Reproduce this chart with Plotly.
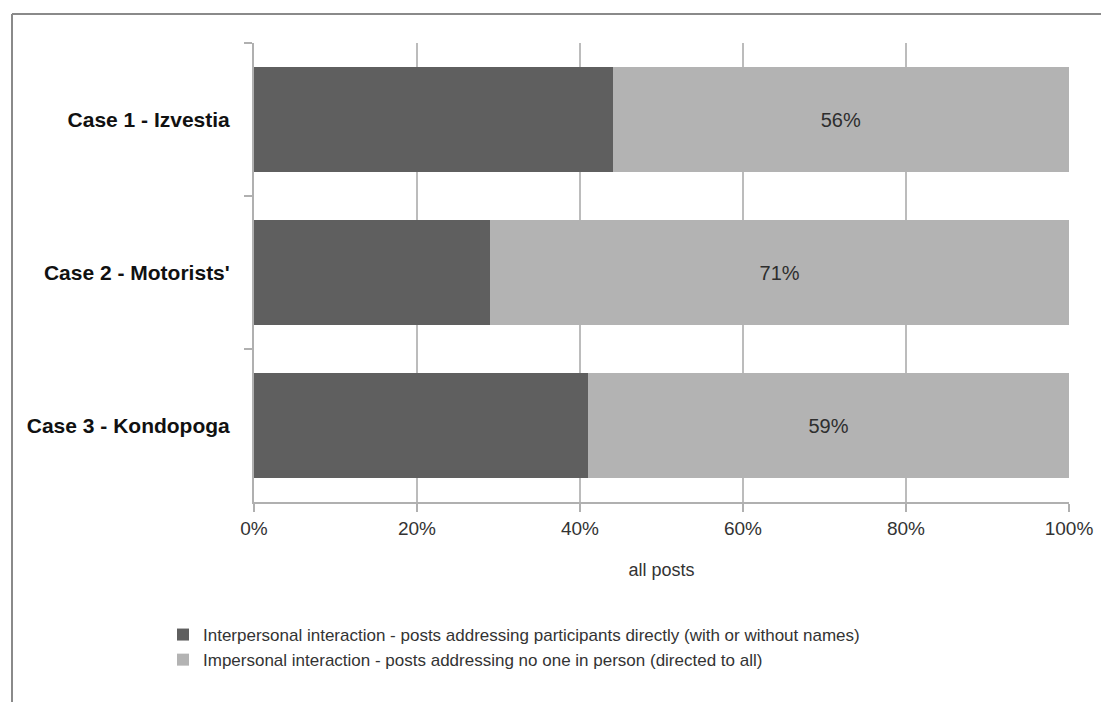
import plotly.graph_objects as go

categories = ["Case 1 - Izvestia", "Case 2 - Motorists'", "Case 3 - Kondopoga"]
interpersonal = [44, 29, 41]
impersonal = [56, 71, 59]
series_names = [
    "Interpersonal interaction - posts addressing participants directly (with or without names)",
    "Impersonal interaction - posts addressing no one in person (directed to all)",
]
tick_vals = [0, 20, 40, 60, 80, 100]
tick_text = ["0%", "20%", "40%", "60%", "80%", "100%"]

# page body has an 8px margin, so the figure is drawn 8px smaller and offset
OFF = 8
W, H = 1109 - OFF, 702 - OFF
L, R, T, B = 254 - OFF, 40, 43 - OFF, 200
pw, ph = W - L - R, H - T - B


def px(x):
    return (x - OFF - L) / pw


def py(y):
    return (H - B - (y - OFF)) / ph


FONT = "Liberation Sans, Arial, sans-serif"

fig = go.Figure()
fig.add_trace(go.Bar(
    y=categories, x=interpersonal, orientation="h", name=series_names[0],
    marker=dict(color="#5f5f5f", line=dict(width=0)),
    hoverinfo="skip",
))
fig.add_trace(go.Bar(
    y=categories, x=impersonal, orientation="h", name=series_names[1],
    marker=dict(color="#b3b3b3", line=dict(width=0)),
    text=[f"{v}%" for v in impersonal], textposition="inside",
    insidetextanchor="middle", textangle=0,
    textfont=dict(family=FONT, size=20, color="#2e2e2e"),
    hoverinfo="skip",
))

fig.update_layout(
    width=W, height=H, barmode="stack", bargap=0.31,
    margin=dict(l=L, r=R, t=T, b=B, pad=0),
    paper_bgcolor="white", plot_bgcolor="white",
    font=dict(family=FONT, color="#333333", size=17),
    showlegend=True,
    legend=dict(
        orientation="v", x=px(163), y=py(617), xanchor="left", yanchor="top",
        font=dict(family=FONT, size=17, color="#333333"),
        traceorder="normal", itemwidth=30, tracegroupgap=0,
        bgcolor="rgba(0,0,0,0)",
    ),
    xaxis=dict(
        range=[0, 100], tickvals=tick_vals, ticktext=tick_text,
        showgrid=True, gridcolor="#bcbcbc", gridwidth=2,
        showline=True, linecolor="#b0b0b0", linewidth=2,
        ticks="outside", ticklen=8, tickcolor="#b0b0b0", tickwidth=2,
        tickfont=dict(family=FONT, size=19, color="#333333"),
        title=dict(text="all posts", font=dict(family=FONT, size=18, color="#333333"), standoff=26),
        zeroline=False, fixedrange=True,
    ),
    yaxis=dict(
        type="category", autorange="reversed",
        showline=True, linecolor="#b0b0b0", linewidth=2,
        ticks="outside", ticklen=8, tickcolor="#b0b0b0", tickwidth=2,
        tickson="boundaries", showgrid=False,
        tickfont=dict(family=FONT, size=21, color="#111111", weight="bold"),
        ticklabelstandoff=18,
        fixedrange=True,
    ),
    shapes=[
        dict(type="line", xref="paper", yref="paper",
             x0=px(12), x1=px(12), y0=py(14), y1=py(720),
             line=dict(color="#8a8a8a", width=2)),
        dict(type="line", xref="paper", yref="paper",
             x0=px(12), x1=px(1120), y0=py(14), y1=py(14),
             line=dict(color="#8a8a8a", width=2)),
    ],
)

fig.write_html("out.html")
